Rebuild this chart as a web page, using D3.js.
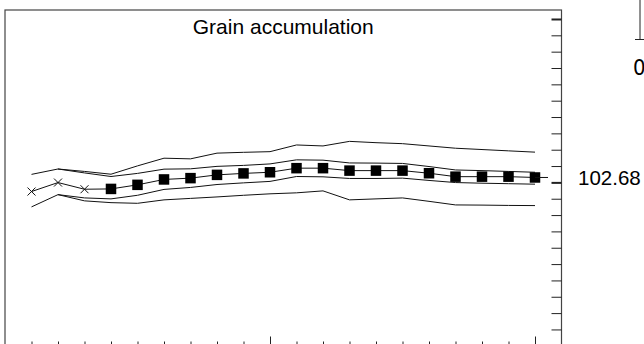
<!DOCTYPE html>
<html>
<head>
<meta charset="utf-8">
<script src="https://cdn.jsdelivr.net/npm/d3@7"></script>
<style>
  html, body { margin: 0; padding: 0; background: #fff; }
  svg { display: block; overflow: hidden; }
  text { font-family: "Liberation Sans", Arial, sans-serif; fill: #000; }
</style>
</head>
<body>
<svg id="chart" width="644" height="344"></svg>
<script>
// Periods along the horizontal axis
const periods = [1, 2, 3, 4, 5, 6, 7, 8, 9, 10, 11, 12, 13, 14, 15, 16, 17, 18, 19, 20];
// Observed periods are drawn with crosses, later ones with filled squares
const observedCount = 3;

// Central estimate of grain accumulation per period
const central = [102.594, 102.649, 102.608, 102.610, 102.635, 102.668, 102.676, 102.696, 102.705, 102.712,
                 102.737, 102.737, 102.722, 102.722, 102.722, 102.706, 102.685, 102.685, 102.685, 102.68];
// Inner band (starts at period 2)
const innerUpper = [null, 102.732, 102.708, 102.686, 102.705, 102.731, 102.733, 102.748, 102.754, 102.763,
                    102.788, 102.786, 102.769, 102.768, 102.766, 102.747, 102.726, 102.722, 102.717, 102.712];
const innerLower = [null, 102.575, 102.555, 102.549, 102.571, 102.607, 102.619, 102.637, 102.647, 102.656,
                    102.686, 102.684, 102.674, 102.674, 102.676, 102.662, 102.649, 102.645, 102.642, 102.639];
// Outer band
const outerUpper = [102.699, 102.732, 102.717, 102.700, 102.751, 102.798, 102.794, 102.829, 102.834, 102.838,
                    102.879, 102.873, 102.901, 102.893, 102.887, 102.873, 102.859, 102.851, 102.843, 102.835];
const outerLower = [102.500, 102.575, 102.537, 102.526, 102.522, 102.543, 102.552, 102.561, 102.571, 102.580,
                    102.586, 102.598, 102.543, 102.549, 102.555, 102.534, 102.512, 102.511, 102.509, 102.508];

// Unlabelled value ticks on the right-hand axis; every tenth one is emphasised
const valueTicks = d3.range(0, 21).map(j => +(103.65 - 0.1 * j).toFixed(2));
const majorValueTicks = [103.65, 102.65];
const majorPeriods = [10, 20];
const lastLabel = "102.68";
const title = "Grain accumulation";

const svg = d3.select("#chart");
const plotLeft = 5, plotRight = 561.5, plotTop = 10, plotBottom = 351.5;

const x = d3.scaleLinear().domain([0, 21]).range([plotLeft, plotRight]);
const y = d3.scaleLinear().domain([101.615, 103.705]).range([plotBottom, plotTop]);

// Plot frame
svg.append("rect")
  .attr("x", plotLeft).attr("y", plotTop)
  .attr("width", plotRight - plotLeft).attr("height", plotBottom - plotTop)
  .attr("fill", "none").attr("stroke", "#444").attr("stroke-width", 1.2);

// Right axis: ticks pointing into the plot
const yAxis = svg.append("g")
  .attr("transform", `translate(${plotRight},0)`)
  .call(d3.axisLeft(y).tickValues(valueTicks).tickSize(10).tickFormat(""));
yAxis.select(".domain").remove();
yAxis.selectAll(".tick line")
  .attr("stroke", "#222")
  .attr("stroke-width", d => majorValueTicks.includes(d) ? 2 : 1);

// Bottom axis: ticks pointing up into the plot
const xAxis = svg.append("g")
  .attr("transform", `translate(0,${plotBottom})`)
  .call(d3.axisTop(x).tickValues(periods).tickFormat(""));
xAxis.select(".domain").remove();
xAxis.selectAll(".tick line")
  .attr("stroke", "#222")
  .attr("y2", d => majorPeriods.includes(d) ? -15 : -10);

const rows = periods.map((p, i) => ({
  p, c: central[i], iu: innerUpper[i], il: innerLower[i], ou: outerUpper[i], ol: outerLower[i]
}));

function drawLine(key) {
  const line = d3.line()
    .defined(d => d[key] != null)
    .x(d => x(d.p)).y(d => y(d[key]));
  svg.append("path")
    .datum(rows)
    .attr("fill", "none")
    .attr("stroke", "#111")
    .attr("stroke-width", 1)
    .attr("d", line);
}
["ou", "ol", "iu", "il", "c"].forEach(drawLine);

// Observed points: crosses
const cross = 4;
const obs = rows.slice(0, observedCount);
svg.append("g").selectAll("path")
  .data(obs).join("path")
  .attr("d", d => {
    const cx = x(d.p), cy = y(d.c);
    return `M${cx - cross},${cy - cross}L${cx + cross},${cy + cross}M${cx - cross},${cy + cross}L${cx + cross},${cy - cross}`;
  })
  .attr("stroke", "#111").attr("stroke-width", 1).attr("fill", "none");

// Projected points: filled squares
const sq = 10.5;
svg.append("g").selectAll("rect")
  .data(rows.slice(observedCount)).join("rect")
  .attr("x", d => x(d.p) - sq / 2)
  .attr("y", d => y(d.c) - sq / 2)
  .attr("width", sq).attr("height", sq)
  .attr("fill", "#000");

// Leader and label for the final value
const last = rows[rows.length - 1];
svg.append("line")
  .attr("x1", x(last.p)).attr("x2", x(last.p) + 13)
  .attr("y1", y(last.c)).attr("y2", y(last.c))
  .attr("stroke", "#111").attr("stroke-width", 1);
svg.append("text")
  .attr("x", 578).attr("y", y(last.c) + 7.5)
  .attr("font-size", 20.5)
  .text(lastLabel);

// Title
svg.append("text")
  .attr("x", (plotLeft + plotRight) / 2).attr("y", 34)
  .attr("text-anchor", "middle")
  .attr("font-size", 21)
  .text(title);

// Edge of the neighbouring panel
const edge = svg.append("g");
edge.append("line").attr("x1", 640).attr("x2", 640).attr("y1", 0).attr("y2", 39.5)
  .attr("stroke", "#222").attr("stroke-width", 1);
edge.append("line").attr("x1", 635).attr("x2", 645).attr("y1", 39.5).attr("y2", 39.5)
  .attr("stroke", "#222").attr("stroke-width", 1);
edge.append("text")
  .attr("x", 633).attr("y", 75)
  .attr("font-size", 22)
  .style("font-family", "'DejaVu Sans', sans-serif")
  .style("font-stretch", "condensed")
  .text("0");
</script>
</body>
</html>
